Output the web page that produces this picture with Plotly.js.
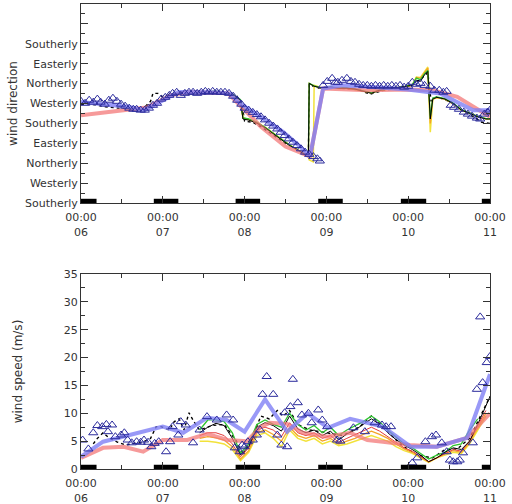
<!DOCTYPE html>
<html><head><meta charset="utf-8">
<script src="https://cdn.plot.ly/plotly-3.0.1.min.js"></script>
<style>html,body{margin:0;padding:0;background:#fff}#c{width:512px;height:504px}</style>
</head><body><div id="c"></div>
<script>
// ---- x tick labels (days since 06 00:00) ----
const dayTicks = [0,1,2,3,4,5];
const dayLabels = ["00:00<br>06","00:00<br>07","00:00<br>08","00:00<br>09","00:00<br>10","00:00<br>11"];
// ---- direction tick labels ----
const dirTickVals = [180,270,360,450,540,630,720,810,900,990,1080];
const dirTickText = ["Southerly","Westerly","Northerly","Easterly","Southerly","Westerly","Northerly","Easterly","Southerly","",""];
// ---- night bars ----
const nightStart = [0,0.89,1.89,2.90,3.91,4.90];
const nightEnd   = [0.19,1.19,2.19,3.20,4.22,5.00];

// ===== TOP: wind direction =====
const triTopD = [0,0.05,0.10,0.15,0.20,0.24,0.29,0.34,0.39,0.44,0.49,0.54,0.59,0.64,0.68,0.73,0.78,0.83,0.88,0.93,0.98,1.03,1.08,1.12,1.17,1.22,1.27,1.32,1.37,1.42,1.47,1.52,1.56,1.61,1.66,1.71,1.76,1.81,1.86,1.91,1.96,2.00,2.05,2.10,2.15,2.20,2.25,2.30,2.35,2.40,2.44,2.49,2.54,2.59,2.64,2.69,2.74,2.79,2.84,2.89,2.92,
  2.96,3.01,3.07,3.11,3.14,3.19,3.25,3.30,3.35,3.40,3.45,3.50,3.55,3.60,3.65,3.70,3.75,3.80,3.85,3.90,3.95,4.00,4.05,4.10,4.15,4.20,4.27,4.32,4.38,4.43,4.47,4.52,4.56,4.62,4.68,4.73,4.78,4.84,4.88,4.93,4.97,5.0];
const triTopV = [640,631,645,636,650,636,627,645,654,640,627,618,609,604,604,600,600,609,622,631,650,658,667,676,681,667,676,681,681,676,681,685,681,685,681,681,681,676,663,645,627,609,600,590,580,570,556,541,528,515,500,485,470,455,440,425,410,400,390,380,370,
  712,730,744,726,726,735,744,730,726,717,712,712,708,712,708,712,708,712,708,712,704,708,726,717,721,712,708,690,690,681,685,622,613,604,591,582,573,564,560,582,591,600];
const pinkTopD = [0,0.5,0.8,1.1,1.3,1.8,2.0,2.2,2.5,2.8,2.96,3.5,4.0,4.3,4.6,4.9,5.0];
const pinkTopV = [577,600,612,667,682,676,600,525,435,390,698,690,693,690,660,592,570];
const blueTopD = [0,0.57,0.78,1.19,1.67,1.82,1.94,2.19,2.47,2.68,2.80,2.96,3.2,3.57,3.99,4.39,4.6,4.79,5.0];
const blueTopV = [637,615,600,682,681,675,631,570,502,435,390,698,712,705,693,675,637,600,600];
const modelTopT = [1.45,1.55,1.65,1.75,1.85,1.95,1.98,2.05,2.15,2.25,2.35,2.45,2.55,2.65,2.75,2.78,2.79,2.84,2.85,2.95,3.05,3.15,3.25,3.35,3.45,3.55,3.65,3.75,3.85,3.95,4.05,4.10,4.15,4.20,4.24,4.27,4.30,4.35,4.45,4.55,4.65,4.75,4.85,4.95,5.0];
const blackTopV  = [681,683,685,681,672,645,560,555,541,520,492,465,440,420,397,388,721,712,708,699,704,699,699,695,685,676,690,695,699,704,712,735,730,760,775,560,650,658,650,630,600,586,570,560,560];
const greenTopV  = [681,684,686,682,673,648,565,560,545,522,494,467,442,421,398,389,721,714,710,700,705,700,700,696,687,678,691,696,700,706,715,745,738,765,780,565,655,660,652,632,602,588,572,562,562];
const orangeTopV = [680,682,684,680,670,643,565,558,543,522,494,467,442,421,398,389,721,712,708,700,703,698,699,694,686,678,690,695,699,704,712,748,745,770,790,540,650,657,650,630,600,587,571,561,561];
const yellowTopV = [680,682,684,680,670,643,565,558,543,522,494,467,442,421,398,389,375,366,712,700,703,698,699,694,686,678,690,695,699,704,712,750,748,775,795,500,650,657,650,630,600,587,571,561,561];
const obsTopD = [0,0.1,0.2,0.3,0.45,0.6,0.75,0.85,0.88,0.94,1.0,1.1,1.2,1.35,1.5,1.7,1.9,1.97,2.0,2.1,2.2,2.3,2.4,2.5,2.6,2.7,2.78,2.79,2.9,3.0,3.2,3.4,3.53,3.7,3.9,4.05,4.2,4.24,4.28,4.35,4.5,4.65,4.8,4.9,5.0];
const obsTopV = [625,628,622,615,610,605,603,640,676,676,660,672,680,684,680,683,668,620,550,545,525,500,475,450,430,410,395,715,700,705,700,692,672,690,700,712,755,770,640,660,640,600,570,545,540];

// ===== BOTTOM: wind speed =====
const triBotD = [0.02,0.09,0.15,0.20,0.26,0.31,0.33,0.38,0.42,0.49,0.53,0.57,0.62,0.68,0.73,0.77,0.82,0.86,0.90,0.95,1.04,1.09,1.12,1.19,1.22,1.28,1.37,1.45,1.54,1.66,1.78,1.86,1.88,1.94,1.97,2.00,2.04,2.10,2.15,2.19,2.22,2.27,2.35,2.40,2.45,2.49,2.52,2.56,2.59,2.65,2.70,2.78,2.82,2.90,2.95,3.01,3.13,3.17,3.33,3.47,3.59,3.68,3.73,3.79,4.05,4.11,4.21,4.29,4.34,4.41,4.47,4.51,4.55,4.60,4.63,4.67,4.79,4.84,4.88,4.91,4.96,5.0];
const triBotS = [5.2,3.6,6.5,7.8,7.6,8.0,6.7,7.9,5.8,6.1,6.5,5.2,4.7,4.9,4.8,5.2,4.8,4.0,4.6,4.9,3.1,4.9,7.6,6.1,8.5,7.9,4.7,7.0,9.4,8.8,9.7,8.8,3.8,3.1,4.3,4.0,4.9,5.2,6.1,7.0,13.4,16.6,13.4,6.1,4.3,10.1,4.0,11.2,16.1,11.9,9.7,10.0,8.3,10.6,8.8,7.6,5.2,5.0,7.4,6.7,8.3,7.9,7.6,7.6,1.1,2.0,4.9,5.8,6.1,4.7,3.1,1.6,1.3,1.3,1.6,2.9,4.7,14.3,27.3,15.5,19.1,20.2];
const blueBotD = [0,0.27,1.0,1.25,1.54,1.78,2.0,2.25,2.52,2.77,3.02,3.29,3.69,4.03,4.35,4.72,5.0];
const blueBotS = [2.2,4.9,7.6,6.5,9.2,8.8,6.7,12.5,6.7,10.0,7.4,9.0,7.6,4.0,4.0,5.6,17.0];
const pinkBotD = [0,0.27,0.52,0.76,1.0,1.30,1.54,1.79,2.03,2.19,2.31,2.52,2.71,3.01,3.29,3.5,3.69,4.02,4.35,4.72,5.0];
const pinkBotS = [2.0,3.8,4.0,3.1,5.2,5.2,6.3,5.2,5.0,7.5,8.3,8.1,6.5,5.8,6.5,5.2,4.9,4.3,4.0,5.6,10.0];
const modelBotT = [1.45,1.55,1.65,1.75,1.85,1.95,2.05,2.15,2.25,2.35,2.45,2.55,2.65,2.75,2.85,2.95,3.05,3.15,3.25,3.35,3.45,3.55,3.65,3.75,3.85,3.95,4.05,4.15,4.25,4.35,4.45,4.55,4.65,4.75,4.85,4.95,5.0];
const blackBotS  = [6.5,7.5,8.2,7.8,5.5,2.5,4.0,7.5,8.3,7.8,6.8,9.5,7.2,6.5,7.0,6.0,6.8,5.2,6.3,7.0,8.0,9.0,8.0,6.5,5.3,4.3,3.5,2.5,1.3,2.0,3.0,3.8,3.5,5.0,8.0,11.5,13.0];
const greenBotS  = [7.0,8.8,8.8,8.5,6.5,2.8,4.5,8.0,8.8,8.0,7.5,10.0,8.0,7.0,7.8,6.5,7.5,6.0,7.0,7.8,8.5,9.5,8.5,7.0,5.8,4.5,3.8,2.8,1.8,2.5,3.0,4.2,4.5,7.0,9.0,null,null];
const redBotS    = [6.0,6.5,6.5,6.0,4.5,2.2,3.8,7.0,7.5,7.0,5.8,8.3,6.5,6.0,6.5,5.5,6.0,4.8,5.5,6.2,6.8,7.5,6.8,5.8,4.8,3.8,3.2,2.3,1.3,2.0,2.8,3.5,3.2,5.0,7.8,10.5,null];
const orangeBotS = [5.5,5.8,5.6,5.2,4.0,1.8,3.3,6.5,7.0,6.2,5.0,7.5,6.0,5.5,6.0,5.0,5.5,4.5,5.0,5.5,6.2,6.8,6.2,5.5,4.5,3.6,3.0,2.2,1.3,2.0,2.8,3.3,3.0,4.8,7.5,10.0,null];
const yellowBotS = [5.0,5.0,4.8,4.5,3.5,1.5,3.0,6.0,6.5,5.5,4.0,7.0,5.5,5.0,5.5,4.5,5.0,4.2,4.5,5.0,5.5,6.0,5.5,5.0,4.0,3.3,2.8,2.0,1.2,2.0,2.5,3.0,2.8,4.5,7.0,9.5,null];
const obsBotD = [0.15,0.2,0.27,0.35,0.45,0.55,0.65,0.75,0.85,0.92,0.98,1.08,1.14,1.2,1.26,1.32,1.38,1.45,1.6,1.75,1.9,1.98,2.1,2.2,2.3,2.4,2.47,2.55,2.65,2.8,3.0,3.2,3.4,3.55,3.7,3.9,4.1,4.3,4.45,4.6,4.75,4.9,5.0];
const obsBotS = [4.5,5.5,6.5,5.5,4.8,4.3,4.6,4.8,5.5,7.6,7.6,7.0,8.5,9.0,7.0,10.1,8.5,7.0,7.8,8.0,5.0,2.5,6.0,9.5,9.0,10.5,9.5,10.5,8.0,7.0,6.5,6.0,7.5,9.5,7.5,4.5,2.5,2.0,3.5,3.6,5.5,10.0,13.0];

const C = {
  blue:'rgba(128,128,245,0.8)', pink:'rgba(243,120,120,0.75)', tri:'#2b2b9c',
  green:'#2fc42f', yellow:'#f2e23a', orange:'#f4a428', red:'#e33b3b', black:'#000'
};
function line(x,y,color,w,xa,ya,dash){return {type:'scatter',mode:'lines',x:x,y:y,xaxis:xa,yaxis:ya,line:{color:color,width:w,dash:dash||'solid'},hoverinfo:'skip',showlegend:false,connectgaps:false};}
function nightXY(yv){const x=[],y=[];for(let i=0;i<nightStart.length;i++){x.push(nightStart[i],nightEnd[i],null);y.push(yv,yv,null);}return [x,y];}

const traces = [];
// top
traces.push(line(obsTopD,obsTopV,C.black,1.4,'x','y','dot'));
traces.push(line(modelTopT,yellowTopV,C.yellow,1.5,'x','y'));
traces.push(line(modelTopT,orangeTopV,C.orange,1.3,'x','y'));
traces.push(line(modelTopT,greenTopV,C.green,1.3,'x','y'));
traces.push(line(modelTopT,blackTopV,C.black,1,'x','y'));
traces.push(line(pinkTopD,pinkTopV,C.pink,4,'x','y'));
traces.push(line(blueTopD,blueTopV,C.blue,4,'x','y'));
traces.push({type:'scatter',mode:'markers',x:triTopD,y:triTopV,xaxis:'x',yaxis:'y',marker:{symbol:'triangle-up-open',size:8,color:C.tri,line:{width:1,color:C.tri}},hoverinfo:'skip',showlegend:false});
let n = nightXY(189);
traces.push(line(n[0],n[1],'#000',4.5,'x','y'));
// bottom
traces.push(line(obsBotD,obsBotS,C.black,1.4,'x2','y2','dot'));
traces.push(line(modelBotT,yellowBotS,C.yellow,1.5,'x2','y2'));
traces.push(line(modelBotT,orangeBotS,C.orange,1.3,'x2','y2'));
traces.push(line(modelBotT,redBotS,C.red,1,'x2','y2'));
traces.push(line(modelBotT,greenBotS,C.green,1.3,'x2','y2'));
traces.push(line(modelBotT,blackBotS,C.black,1,'x2','y2'));
traces.push(line(pinkBotD,pinkBotS,C.pink,4,'x2','y2'));
traces.push(line(blueBotD,blueBotS,C.blue,4,'x2','y2'));
traces.push({type:'scatter',mode:'markers',x:triBotD,y:triBotS,xaxis:'x2',yaxis:'y2',marker:{symbol:'triangle-up-open',size:8,color:C.tri,line:{width:1,color:C.tri}},hoverinfo:'skip',showlegend:false});
n = nightXY(0.36);
traces.push(line(n[0],n[1],'#000',4.5,'x2','y2'));

const F = {family:'DejaVu Sans, sans-serif', size:11, color:'#333'};
function xax(anchor){return {anchor:anchor,domain:[0,1],range:[0,5],tickmode:'array',tickvals:dayTicks,ticktext:dayLabels,
  ticks:'inside',ticklen:7,tickcolor:'#333',showline:true,linecolor:'#333',linewidth:1,mirror:'ticks',ticklabelstandoff:4,
  showgrid:false,zeroline:false,tickfont:F,minor:{ticks:'inside',tick0:0,dtick:0.5,ticklen:4,tickcolor:'#333'},fixedrange:true};}
const layout = {
  width:512,height:504,margin:{l:81,r:22,t:4,b:35},paper_bgcolor:'#fff',plot_bgcolor:'#fff',showlegend:false,
  font:F,
  xaxis: xax('y'),
  yaxis: {domain:[0.572,1],range:[180,1080],tickmode:'array',tickvals:dirTickVals,ticktext:dirTickText,
    ticks:'inside',ticklen:7,tickcolor:'#333',showline:true,linecolor:'#333',linewidth:1,mirror:'ticks',
    showgrid:false,zeroline:false,tickfont:F,minor:{ticks:'inside',tick0:180,dtick:45,ticklen:4,tickcolor:'#333'},
    title:{text:'wind direction',font:{family:'DejaVu Sans, sans-serif',size:12,color:'#333'},standoff:4}},
  xaxis2: xax('y2'),
  yaxis2: {domain:[0,0.4194],range:[0,35],tickmode:'linear',tick0:0,dtick:5,
    ticks:'inside',ticklen:7,tickcolor:'#333',showline:true,linecolor:'#333',linewidth:1,mirror:'ticks',
    showgrid:false,zeroline:false,tickfont:F,minor:{ticks:'inside',tick0:0,dtick:2.5,ticklen:4,tickcolor:'#333'},
    title:{text:'wind speed (m/s)',font:{family:'DejaVu Sans, sans-serif',size:12,color:'#333'},standoff:38}}
};
Plotly.newPlot('c',traces,layout,{staticPlot:true,displayModeBar:false});
</script></body></html>
